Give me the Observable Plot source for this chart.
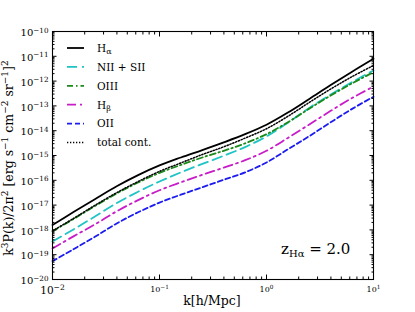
<!DOCTYPE html>
<html><head><meta charset="utf-8">
<script src="https://cdn.jsdelivr.net/npm/d3@7"></script>
<script src="https://cdn.jsdelivr.net/npm/@observablehq/plot@0.6"></script>
<style>body{margin:0;background:#fff}</style>
</head><body><div id="chart"></div>
<script>
// log10 k [h/Mpc]
const logK = [-2, -1.8, -1.6, -1.4, -1.2, -1.0, -0.8, -0.6, -0.4, -0.2, 0, 0.2, 0.4, 0.6, 0.8, 1.0];
// log10 of k^3 P(k) / 2pi^2
const hAlpha = [-17.80, -17.27, -16.75, -16.24, -15.79, -15.40, -15.08, -14.78, -14.47, -14.14, -13.76, -13.27, -12.72, -12.16, -11.62, -11.10];
const nIISII = [-18.47, -17.97, -17.45, -16.92, -16.46, -16.05, -15.68, -15.34, -15.01, -14.66, -14.23, -13.68, -13.08, -12.54, -12.04, -11.57];
const oIII   = [-18.06, -17.55, -17.03, -16.53, -16.09, -15.70, -15.38, -15.08, -14.81, -14.51, -14.14, -13.66, -13.11, -12.58, -12.09, -11.64];
const hBeta  = [-18.75, -18.25, -17.77, -17.25, -16.80, -16.40, -16.08, -15.78, -15.49, -15.19, -14.81, -14.29, -13.75, -13.20, -12.68, -12.22];
const oII    = [-19.26, -18.77, -18.27, -17.74, -17.29, -16.90, -16.58, -16.28, -15.98, -15.68, -15.28, -14.75, -14.22, -13.66, -13.12, -12.63];
const totalCont = [-18.04, -17.53, -17.00, -16.50, -16.05, -15.64, -15.30, -14.96, -14.65, -14.30, -13.92, -13.42, -12.86, -12.32, -11.82, -11.37];

const seriesNames = ["Hα", "NII + SII", "OIII", "Hβ", "OII", "total cont."];
const seriesValues = [hAlpha, nIISII, oIII, hBeta, oII, totalCont];
const seriesColors = ["#000000", "#1fc4c4", "#1a8a1a", "#c81cc8", "#1c1cf0", "#000000"];
const seriesDash = [null, "10,5", "6,3,1.5,3", "9,4,2,4", "5,3", "1.3,1.7"];
const seriesWidth = [1.8, 1.8, 1.8, 1.8, 1.8, 1.5];

const xTicks = [0.01, 0.1, 1, 10];
const xTickLabels = ["10^−2", "10^−1", "10^0", "10^1"];
const yTicks = [1e-20, 1e-19, 1e-18, 1e-17, 1e-16, 1e-15, 1e-14, 1e-13, 1e-12, 1e-11, 1e-10];
const yTickLabels = ["10^−20", "10^−19", "10^−18", "10^−17", "10^−16", "10^−15", "10^−14", "10^−13", "10^−12", "10^−11", "10^−10"];

const xMinor = [];
for (let e = -2; e < 1; e++) for (let m = 2; m <= 9; m++) xMinor.push(m * Math.pow(10, e));
const yMinor = [];
for (let e = -20; e < -10; e++) for (let m = 2; m <= 9; m++) yMinor.push(m * Math.pow(10, e));

const rows = [];
seriesNames.forEach((s, j) => seriesValues[j].forEach((v, i) => rows.push({s, k: Math.pow(10, logK[i]), p: Math.pow(10, v)})));

const font = "DejaVu Serif";
const lineMarks = seriesNames.map((s, j) => Plot.line(rows.filter(d => d.s === s), {
  x: "k", y: "p", stroke: seriesColors[j], strokeWidth: seriesWidth[j],
  strokeDasharray: seriesDash[j], curve: "catmull-rom"
}));

const noText = () => "";
const plot = Plot.plot({
  width: 415, height: 312,
  marginLeft: 52, marginRight: 42, marginTop: 31, marginBottom: 33,
  x: {type: "log", domain: [0.01, 10], label: null},
  y: {type: "log", domain: [1e-20, 1e-10], label: null},
  style: {fontFamily: font, background: "white", color: "black", overflow: "visible"},
  marks: [
    ...lineMarks,
    Plot.axisX(xTicks, {anchor: "bottom", tickSize: -4.5, tickFormat: noText, label: null}),
    Plot.axisX(xMinor, {anchor: "bottom", tickSize: -2.5, tickFormat: noText, label: null}),
    Plot.axisX(xTicks, {anchor: "top", tickSize: -4.5, tickFormat: noText, label: null}),
    Plot.axisX(xMinor, {anchor: "top", tickSize: -2.5, tickFormat: noText, label: null}),
    Plot.axisY(yTicks, {anchor: "left", tickSize: -4.5, tickFormat: noText, label: null}),
    Plot.axisY(yMinor, {anchor: "left", tickSize: -2.5, tickFormat: noText, label: null}),
    Plot.axisY(yTicks, {anchor: "right", tickSize: -4.5, tickFormat: noText, label: null}),
    Plot.axisY(yMinor, {anchor: "right", tickSize: -2.5, tickFormat: noText, label: null}),
    Plot.axisX(xTicks, {anchor: "bottom", tickSize: 0, tickPadding: 7, fontSize: 8,
      tickFormat: d => xTickLabels[xTicks.indexOf(d)], label: null}),
    Plot.axisY(yTicks, {anchor: "left", tickSize: 0, tickPadding: 4, fontSize: 10, dy: 1.5,
      tickFormat: d => yTickLabels[yTicks.indexOf(d)], label: null}),
    Plot.frame({stroke: "black", strokeWidth: 1.1})
  ]
});
document.getElementById("chart").appendChild(plot);

const svg = d3.select(plot);
// superscripts in tick labels
svg.selectAll("text").each(function () {
  const t = this.textContent;
  if (!/^10\^/.test(t)) return;
  const [base, exp] = t.split("^");
  const sel = d3.select(this);
  sel.text(null);
  sel.append("tspan").text(base);
  sel.append("tspan").attr("dy", "-0.5em").attr("font-size", "0.72em").text(exp);
  if (exp === "−2") sel.attr("font-size", 10.5);
});

// axis labels
const yl = svg.append("text")
  .attr("transform", "translate(13,158) rotate(-90)")
  .attr("text-anchor", "middle").attr("font-family", font).attr("font-size", 12.5);
const sup = (sel, s) => sel.append("tspan").attr("dy", -5).attr("font-size", 9).text(s);
const norm = (sel, s) => sel.append("tspan").attr("dy", 5).text(s);
yl.append("tspan").text("k");
sup(yl, "3"); norm(yl, "P(k)/2π");
sup(yl, "2"); norm(yl, " [erg s");
sup(yl, "−1"); norm(yl, " cm");
sup(yl, "−2"); norm(yl, " sr");
sup(yl, "−1"); norm(yl, "]");
sup(yl, "2");

svg.append("text").attr("x", 212).attr("y", 305).attr("text-anchor", "middle")
  .attr("font-family", font).attr("font-size", 12.5).text("k[h/Mpc]");

// redshift annotation
const z = svg.append("text").attr("x", 281).attr("y", 253.5).attr("text-anchor", "start")
  .attr("font-family", font).attr("font-size", 15);
z.append("tspan").text("z");
z.append("tspan").attr("dy", 3).attr("font-size", 10).text("Hα");
z.append("tspan").attr("dy", -3).text(" = 2.0");

// legend
const lg = svg.append("g").attr("font-family", font).attr("font-size", 10.5).attr("text-anchor", "start");
seriesNames.forEach((s, j) => {
  const cy = 48 + j * 18.9;
  lg.append("line").attr("x1", 67).attr("x2", 84).attr("y1", cy).attr("y2", cy)
    .attr("stroke", seriesColors[j]).attr("stroke-width", seriesWidth[j])
    .attr("stroke-dasharray", seriesDash[j]);
  const t = lg.append("text").attr("x", 97).attr("y", cy + 3.8);
  if (s === "Hα" || s === "Hβ") {
    t.append("tspan").text("H");
    t.append("tspan").attr("dy", 2.5).attr("font-size", 8).text(s.slice(1));
  } else t.text(s);
});
</script>
</body></html>
